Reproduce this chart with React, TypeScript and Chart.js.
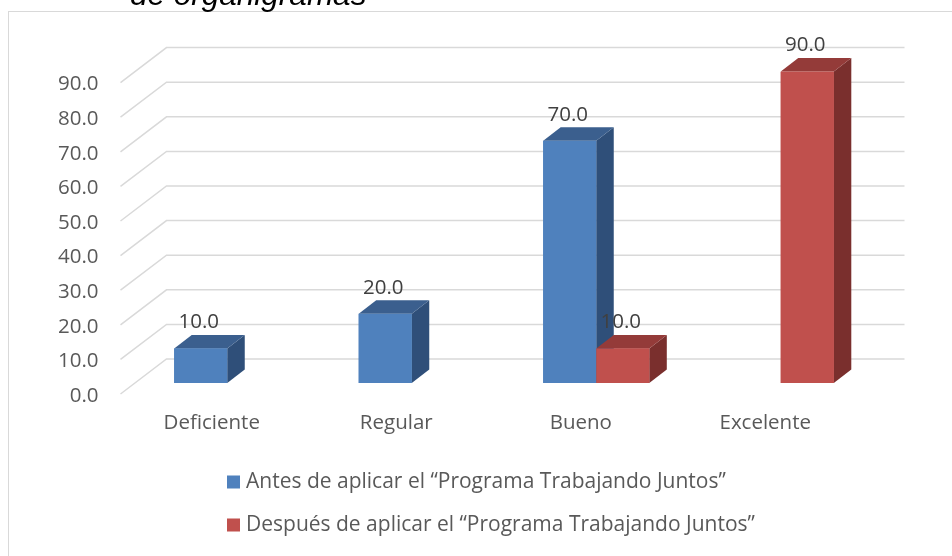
import React, { useEffect, useRef } from "react";
import { Chart, registerables } from "chart.js";

Chart.register(...registerables);

const titleText = "de organigramas";
const categories = ["Deficiente", "Regular", "Bueno", "Excelente"];
const seriesNames = [
  "Antes de aplicar el \u201cPrograma Trabajando Juntos\u201d",
  "Despu\u00e9s de aplicar el \u201cPrograma Trabajando Juntos\u201d",
];
const antesValues = [10, 20, 70, 0];
const despuesValues = [0, 0, 10, 90];
const tickValues = [0, 10, 20, 30, 40, 50, 60, 70, 80, 90];

const FONT = "'Open Sans', Lato, sans-serif";
const TEXT = "#595959";
const GRID = "#D9D9D9";
const BACK_DX = 31.5;
const BACK_DY = 24;
const FRONT_DX = 14.5;
const FRONT_DY = 11;
const BAR_DX = 17.5;
const BAR_DY = 13.5;
const palette = [
  { front: "#4F81BD", top: "#3B5F8E", side: "#2F4F79" },
  { front: "#C0504D", top: "#943B39", side: "#7A2F2D" },
];

const excel3d = {
  id: "excel3d",
  beforeDatasetsDraw(chart: any) {
    const { ctx, chartArea } = chart;
    const y = chart.scales.y;
    const x = chart.scales.x;
    ctx.save();
    // chart border
    ctx.strokeStyle = GRID;
    ctx.lineWidth = 1;
    ctx.strokeRect(8.5, 11.5, 1000, 700);
    // title (cut at the top)
    ctx.font = "italic 31.5px 'Liberation Sans', Arial, sans-serif";
    ctx.fillStyle = "#000";
    ctx.textAlign = "left";
    ctx.textBaseline = "alphabetic";
    ctx.fillText(titleText, 130, 5);
    // back wall gridlines + left wall diagonals
    ctx.strokeStyle = GRID;
    ctx.lineWidth = 1.5;
    ctx.font = `20.5px ${FONT}`;
    tickValues.forEach((v) => {
      const yp = y.getPixelForValue(v);
      const yb = yp - BACK_DY;
      const yf = yp + FRONT_DY;
      ctx.beginPath();
      ctx.moveTo(chartArea.left - FRONT_DX, yf);
      ctx.lineTo(chartArea.left + BACK_DX, yb);
      ctx.lineTo(chartArea.right + BACK_DX, yb);
      ctx.stroke();
      ctx.fillStyle = TEXT;
      ctx.textAlign = "right";
      ctx.textBaseline = "middle";
      ctx.fillText(v.toFixed(1), chartArea.left - FRONT_DX - 22, yf + 2);
    });
    // category labels on the front edge
    ctx.fillStyle = TEXT;
    ctx.textAlign = "center";
    ctx.textBaseline = "middle";
    categories.forEach((c, i) => {
      ctx.fillText(c, x.getPixelForValue(i) - FRONT_DX - 1, y.getPixelForValue(0) + 40);
    });
    // legend
    ctx.font = `21px ${FONT}`;
    const lx = 227;
    const ly = [482, 525];
    seriesNames.forEach((name, i) => {
      ctx.fillStyle = palette[i].front;
      ctx.fillRect(lx, ly[i] - 6.5, 13, 13);
      ctx.fillStyle = TEXT;
      ctx.textAlign = "left";
      ctx.textBaseline = "middle";
      ctx.fillText(name, lx + 19, ly[i]);
    });
    ctx.restore();
  },
  afterDatasetsDraw(chart: any) {
    const { ctx } = chart;
    ctx.save();
    const n = categories.length;
    for (let i = 0; i < n; i++) {
      chart.data.datasets.forEach((ds: any, d: number) => {
        const v = ds.data[i];
        if (!v) return;
        const el = chart.getDatasetMeta(d).data[i];
        const p = el.getProps(["x", "y", "base", "width"], true);
        const l = p.x - p.width / 2;
        const r = p.x + p.width / 2;
        const t = p.y;
        const b = p.base;
        const c = palette[d];
        // side face
        ctx.fillStyle = c.side;
        ctx.beginPath();
        ctx.moveTo(r, t);
        ctx.lineTo(r + BAR_DX, t - BAR_DY);
        ctx.lineTo(r + BAR_DX, b - BAR_DY);
        ctx.lineTo(r, b);
        ctx.closePath();
        ctx.fill();
        // top face
        ctx.fillStyle = c.top;
        ctx.beginPath();
        ctx.moveTo(l, t);
        ctx.lineTo(l + BAR_DX, t - BAR_DY);
        ctx.lineTo(r + BAR_DX, t - BAR_DY);
        ctx.lineTo(r, t);
        ctx.closePath();
        ctx.fill();
        // front face
        ctx.fillStyle = c.front;
        ctx.fillRect(l, t, r - l, b - t);
      });
    }
    // data labels
    ctx.font = `20.5px ${FONT}`;
    ctx.fillStyle = "#404040";
    ctx.textAlign = "center";
    ctx.textBaseline = "middle";
    chart.data.datasets.forEach((ds: any, d: number) => {
      ds.data.forEach((v: number, i: number) => {
        if (!v) return;
        const el = chart.getDatasetMeta(d).data[i];
        const p = el.getProps(["x", "y"], true);
        ctx.fillText(v.toFixed(1), p.x - 2, p.y - 26);
      });
    });
    ctx.restore();
  },
};

export default function App() {
  const ref = useRef<HTMLCanvasElement>(null);
  useEffect(() => {
    if (!ref.current) return;
    const chart = new Chart(ref.current, {
      type: "bar",
      data: {
        labels: categories,
        datasets: [
          { label: seriesNames[0], data: antesValues, backgroundColor: palette[0].front },
          { label: seriesNames[1], data: despuesValues, backgroundColor: palette[1].front },
        ],
      },
      options: {
        responsive: false,
        animation: false,
        devicePixelRatio: 1,
        layout: { padding: { left: 135, right: 79, top: 71.6, bottom: 173 } },
        datasets: { bar: { categoryPercentage: 0.575, barPercentage: 1 } },
        scales: {
          x: { display: false },
          y: { display: false, min: 0, max: 90 },
        },
        plugins: { legend: { display: false }, title: { display: false }, tooltip: { enabled: false } },
      } as any,
      plugins: [excel3d],
    });
    return () => chart.destroy();
  }, []);
  return (
    <div style={{ position: "fixed", left: 0, top: 0, width: 952, height: 556, background: "#fff" }}>
      <canvas ref={ref} width={952} height={556} style={{ display: "block" }} />
    </div>
  );
}
